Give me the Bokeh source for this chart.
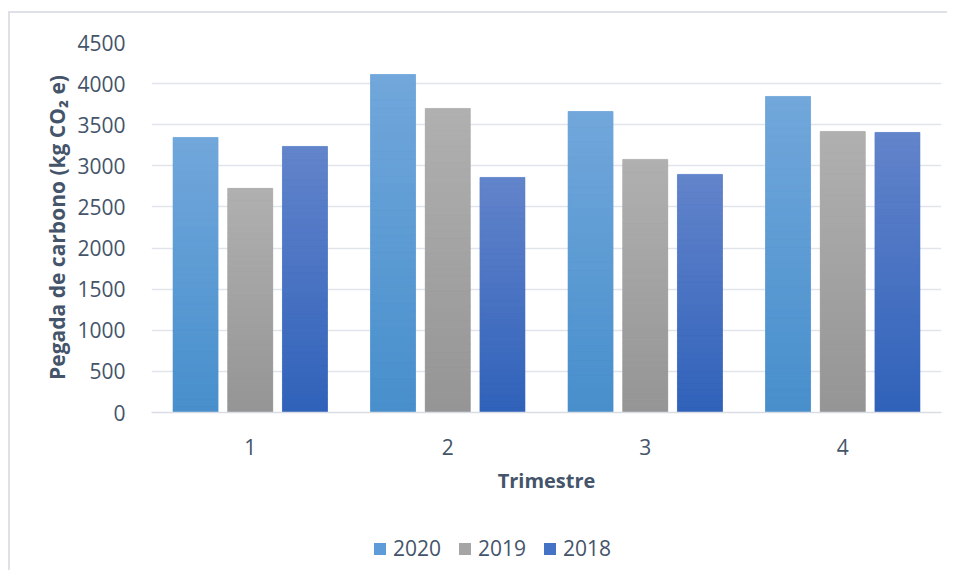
from bokeh.plotting import figure
from bokeh.layouts import column
from bokeh.models import (ColumnDataSource, FactorRange, Range1d, FixedTicker,
                          Legend, LegendItem)
from bokeh.transform import dodge
from bokeh.embed import file_html
from bokeh.resources import INLINE

# ---- data ----
quarters = ["1", "2", "3", "4"]
years = ["2020", "2019", "2018"]
v2020 = [3345, 4111, 3661, 3844]
v2019 = [2726, 3698, 3078, 3418]
v2018 = [3236, 2859, 2896, 3406]
y_ticks = [0, 500, 1000, 1500, 2000, 2500, 3000, 3500, 4000, 4500]

series = [v2020, v2019, v2018]
offsets = [-0.277, 0.0, 0.277]
top_colors = [(0x72, 0xA7, 0xDB), (0xB0, 0xB0, 0xB0), (0x63, 0x84, 0xCB)]
bot_colors = [(0x47, 0x8F, 0xCC), (0x95, 0x95, 0x95), (0x30, 0x62, 0xBA)]
mid_colors = ["#5D9CD9", "#A5A5A5", "#4472C4"]

TXT = "#44546A"
FONT = "Open Sans"

p = figure(x_range=FactorRange(*quarters, range_padding=0),
           y_range=Range1d(0, 4500),
           frame_width=790, frame_height=370,
           min_border_left=141, min_border_top=29, min_border_right=6,
           min_border_bottom=118,
           output_backend="svg", toolbar_location=None)
p.outline_line_color = None
p.background_fill_color = "white"
p.border_fill_color = "white"

p.xgrid.grid_line_color = None
p.ygrid.grid_line_color = "#E1E5EB"
p.ygrid.grid_line_width = 1.5
p.yaxis.ticker = FixedTicker(ticks=y_ticks)

p.yaxis.axis_line_color = None
p.yaxis.major_tick_line_color = None
p.yaxis.minor_tick_line_color = None
p.yaxis.major_label_standoff = 20
p.yaxis.major_label_text_font = FONT
p.yaxis.major_label_text_font_size = "21px"
p.yaxis.major_label_text_color = TXT
p.yaxis.axis_label = "Pegada de carbono (kg CO\u2082 e)"
p.yaxis.axis_label_text_font = FONT
p.yaxis.axis_label_text_font_size = "21px"
p.yaxis.axis_label_text_font_style = "bold"
p.yaxis.axis_label_text_color = TXT
p.yaxis.axis_label_standoff = 3

p.xaxis.axis_line_color = "#D9DDE3"
p.xaxis.axis_line_width = 1.5
p.xaxis.major_tick_line_color = None
p.xaxis.minor_tick_line_color = None
p.xaxis.major_label_standoff = 20
p.xaxis.major_label_text_font = FONT
p.xaxis.major_label_text_font_size = "21px"
p.xaxis.major_label_text_color = TXT
p.xaxis.axis_label = "Trimestre"
p.xaxis.axis_label_text_font = FONT
p.xaxis.axis_label_text_font_size = "20px"
p.xaxis.axis_label_text_font_style = "bold"
p.xaxis.axis_label_text_color = TXT
p.xaxis.axis_label_standoff = 9

# legend strip below the chart
pl = figure(width=937, height=40, x_range=Range1d(0, 1), y_range=Range1d(0, 1),
            x_axis_type=None, y_axis_type=None, min_border=0,
            output_backend="svg", toolbar_location=None)
pl.outline_line_color = None
pl.background_fill_color = "white"
pl.border_fill_color = "white"

N = 40
items = []
for vals, off, tc, bc, mc, yr in zip(series, offsets, top_colors, bot_colors,
                                     mid_colors, years):
    base = ColumnDataSource(dict(q=quarters, v=vals))
    p.vbar(x=dodge("q", off, range=p.x_range), top="v", bottom=0,
           width=0.228, source=base, fill_color=mc, line_color=None)
    # zero-size proxy glyph that only supplies the legend swatch
    key = pl.rect(x=0, y=0, width=0, height=0, fill_color=mc, line_color=None,
                  source=ColumnDataSource(dict(label=[yr])))
    items.append(LegendItem(label=yr, renderers=[key]))
    qs, bots, tops, cols = [], [], [], []
    for q, v in zip(quarters, vals):
        for i in range(N):
            t = (i + 0.5) / N  # 0 bottom -> 1 top
            c = tuple(int(round(bc[k] + (tc[k] - bc[k]) * t)) for k in range(3))
            qs.append(q)
            bots.append(v * i / N)
            tops.append(v * (i + 1) / N)
            cols.append("#%02X%02X%02X" % c)
    src = ColumnDataSource(dict(q=qs, b=bots, t=tops, c=cols))
    p.vbar(x=dodge("q", off, range=p.x_range), top="t", bottom="b",
           width=0.228, source=src, fill_color="c", line_color="c",
           line_width=0.6)

legend = Legend(items=items, orientation="horizontal", location=(221, 8),
                padding=0, margin=0, spacing=16, label_standoff=6,
                glyph_width=15, glyph_height=15, label_height=20,
                label_text_font=FONT, label_text_font_size="21px",
                label_text_color=TXT, border_line_color=None,
                background_fill_alpha=0)
pl.add_layout(legend, "center")

layout = column(p, pl, spacing=0)
layout.margin = (11, 0, 0, 8)
layout.styles = {"border-left": "2px solid #DEE2E8", "border-top": "2px solid #DEE2E8"}

open("out.html", "w").write(file_html(layout, INLINE))
